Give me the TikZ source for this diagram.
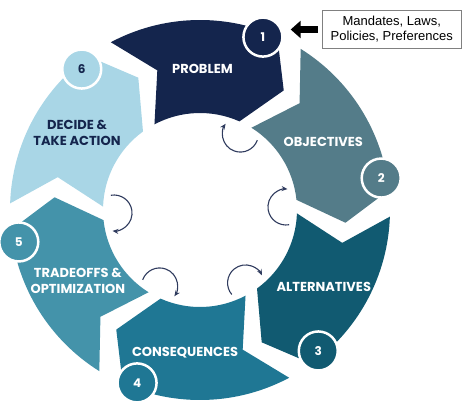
\documentclass[tikz,border=0pt]{standalone}
\usepackage{fontspec}
\setmainfont{Poppins}
\newfontfamily\boxfont{Liberation Sans}
\usetikzlibrary{arrows.meta}

\definecolor{problem}{HTML}{14254D}
\definecolor{objectives}{HTML}{547C89}
\definecolor{alternatives}{HTML}{115A71}
\definecolor{consequences}{HTML}{1F7794}
\definecolor{tradeoffs}{HTML}{4493AA}
\definecolor{decide}{HTML}{A9D6E6}
\definecolor{loopcol}{HTML}{2F3B5E}

\tikzset{
  seglabel/.style={font=\bfseries\fontsize{13}{16}\selectfont, text=white, align=center},
  stepnum/.style={circle, draw=white, line width=2.5pt, minimum size=39pt, inner sep=0pt,
    font=\bfseries\fontsize{12}{14}\selectfont},
  loopback/.style={draw=loopcol, line width=1.1pt, -{Stealth[length=6pt,width=5pt]}},
}

\begin{document}
\begin{tikzpicture}[x=1pt,y=1pt]
\useasboundingbox (-200,-192) rectangle (262,210);
% ring of chevrons, clockwise from the top
\foreach \a/\col in {92/problem,32/objectives,-28/alternatives,-88/consequences,-148/tradeoffs,-208/decide}
  \fill[\col] (\a+26:190) arc[start angle=\a+26, end angle=\a-26, radius=190]
    -- (\a-37:146) -- (\a-26:97) arc[start angle=\a-26, end angle=\a+26, radius=97]
    -- (\a+15:146) -- cycle;

\node[seglabel] (problem) at (89:141) {PROBLEM};
\node[seglabel] (objectives) at (29:141) {OBJECTIVES};
\node[seglabel] (alternatives) at (-32:146) {ALTERNATIVES};
\node[seglabel] (consequences) at (-96:143) {CONSEQUENCES};
\node[seglabel] (tradeoffs) at (-150:141) {TRADEOFFS \&\\OPTIMIZATION};
\node[seglabel, text=problem] (decide) at (148:145) {DECIDE \&\\TAKE ACTION};

% step numbers
\foreach \a/\col/\txt [count=\i] in {92/problem/white,32/objectives/white,-28/alternatives/white,
    -88/consequences/white,-148/tradeoffs/white,-208/decide/problem}
  \node[stepnum, fill=\col, text=\txt] (num\i) at (\a-22:184) {\i};

% feedback loops between neighbouring steps
\foreach \g [count=\i] in {62,2,-58,-118,-178} {
  \coordinate (gap\i) at (\g:86);
  \draw[loopback] ([shift={(\g-82:18)}]gap\i) arc[start angle=\g-82, end angle=\g-277, radius=18];
}

% external inputs
\node[draw=gray, line width=0.6pt, fill=white, minimum width=139pt, minimum height=38pt,
  align=center, font=\boxfont\fontsize{13}{15}\selectfont] (inputs) at (191.75,180.5)
  {Mandates, Laws,\\Policies, Preferences};
\draw[line width=6.5pt, -{Triangle[length=10pt,width=17pt]}, shorten <=4pt, shorten >=7pt]
  (inputs.west) -- (inputs.west -| num1.east);
\end{tikzpicture}
\end{document}
